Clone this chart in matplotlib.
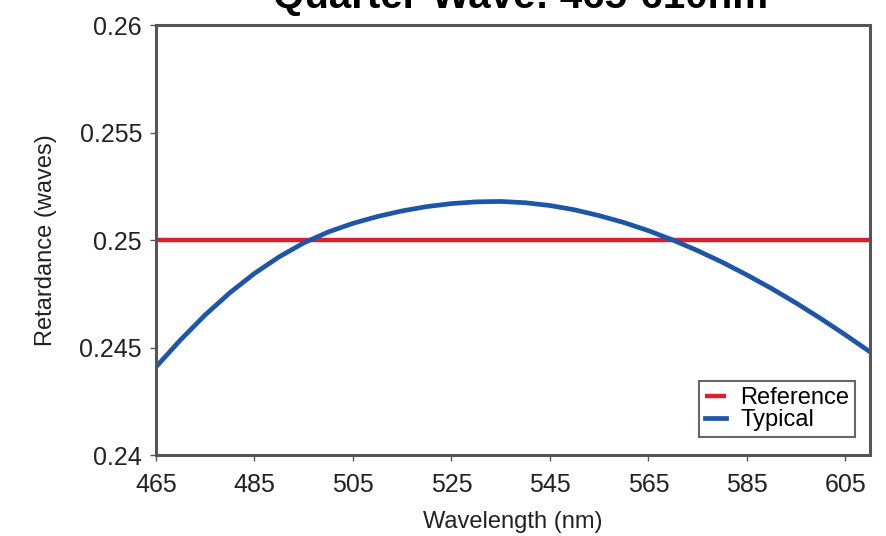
import numpy as np
import matplotlib
matplotlib.use("Agg")
import matplotlib.pyplot as plt

plt.rcParams['font.family'] = ['Liberation Sans Narrow', 'Liberation Sans', 'DejaVu Sans']

# retardance readings, quarter-wave plate
wavelength = [465, 470, 475, 480, 485, 490, 495, 500, 505, 510, 515, 520, 525,
              530, 535, 540, 545, 550, 555, 560, 565, 570, 575, 580, 585, 590,
              595, 600, 605, 610]
typical = [0.24410, 0.24536, 0.24652, 0.24755, 0.24845, 0.24922, 0.24987, 0.25038,
           0.25078, 0.25110, 0.25136, 0.25156, 0.25170, 0.25178, 0.25180, 0.25174,
           0.25161, 0.25141, 0.25114, 0.25082, 0.25044, 0.25000, 0.24951, 0.24897,
           0.24838, 0.24775, 0.24707, 0.24635, 0.24559, 0.24480]
reference_level = 0.25

xticks = [465, 485, 505, 525, 545, 565, 585, 605]
yticks = [0.24, 0.245, 0.25, 0.255, 0.26]
ytick_labels = ["0.24", "0.245", "0.25", "0.255", "0.26"]

fig = plt.figure(figsize=(8.86, 5.36), dpi=100)
ax = fig.add_axes([0.176, 0.151, 0.806, 0.802])

ax.plot([465, 610], [reference_level, reference_level], color="#d9202c", lw=3.2,
        label="Reference", solid_capstyle="butt")
ax.plot(wavelength, typical, color="#1d56a6", lw=3.4, label="Typical")

ax.set_xlim(465, 610)
ax.set_ylim(0.24, 0.26)
ax.set_xticks(xticks)
ax.set_yticks(yticks)
ax.set_yticklabels(ytick_labels)
ax.tick_params(labelsize=18, length=4, width=1, color="#555555", labelcolor="#222222")
ax.tick_params(axis="x", pad=9)
ax.tick_params(axis="y", pad=6)
for s in ax.spines.values():
    s.set_color("#555555")
    s.set_linewidth(2.2)

ax.set_xlabel("Wavelength (nm)", fontsize=17, labelpad=10, color="#222222")
ax.set_ylabel("Retardance (waves)", fontsize=17, labelpad=16, color="#222222")

leg = ax.legend(loc="lower right", bbox_to_anchor=(0.979, 0.042), borderaxespad=0,
                fontsize=17, handlelength=0.9, handletextpad=0.6, labelspacing=0.0,
                borderpad=0.25, fancybox=False, framealpha=1)
leg.get_frame().set_edgecolor("#666666")
leg.get_frame().set_linewidth(1.5)

fig.text(0.587, 1 - 8 / 536, "Quarter-Wave: 465-610nm", ha="center", va="baseline",
         fontsize=29, fontweight="heavy", family=["Liberation Sans", "DejaVu Sans"])

fig.savefig("out.png", dpi=100)
